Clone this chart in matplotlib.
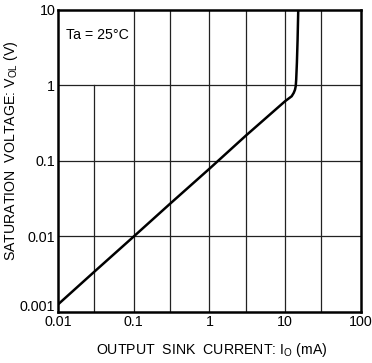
import matplotlib
matplotlib.use('Agg')
import matplotlib.pyplot as plt
import matplotlib.transforms as mtransforms
import numpy as np

plt.rcParams['font.family'] = ['Liberation Sans', 'DejaVu Sans']
plt.rcParams['mathtext.fontset'] = 'custom'
plt.rcParams['mathtext.rm'] = 'Liberation Sans'

# curve (mA, V)
current = [0.01, 0.03, 0.1, 0.3, 1, 3, 10, 12.2, 13.0, 13.5, 13.8, 14.0, 14.3, 14.6, 14.9]
voltage = [0.00126, 0.0034, 0.01, 0.027, 0.079, 0.215, 0.62, 0.72, 0.80, 0.88, 0.98, 1.2, 2.0, 4.0, 10]

x_ticks = [0.01, 0.1, 1, 10, 100]
x_ticklabels = ['0.01', '0.1', '1', '10', '100']
y_ticks = [0.001, 0.01, 0.1, 1, 10]
y_ticklabels = ['0.001', '0.01', '0.1', '1', '10']
x_grid = [0.1, 0.3, 1, 3, 10, 30]

W, H = 372, 363
fig = plt.figure(figsize=(W / 100, H / 100), dpi=100)
ax = fig.add_axes([0.156, 0.1405, 0.814, 0.832])
ax.set_xscale('log')
ax.set_yscale('log')
ax.set_xlim(0.01, 100)
ax.set_ylim(0.001, 10)

for x in x_grid:
    ax.axvline(x, color='#222222', lw=0.9, zorder=1)
# gridline at 0.03 stops below the temperature note
ax.axvline(0.03, ymax=0.75, color='#222222', lw=0.9, zorder=1)
for y in [0.01, 0.1, 1]:
    ax.axhline(y, color='#222222', lw=0.9, zorder=1)

ax.plot(current, voltage, color='black', lw=1.8, zorder=3)

ax.text(0.0128, 4.6, 'Ta = 25°C', fontsize=10.2, va='center', ha='left')

ax.set_xticks(x_ticks)
ax.set_xticklabels(x_ticklabels)
ax.set_yticks(y_ticks)
ax.set_yticklabels(y_ticklabels)
ax.minorticks_off()
ax.tick_params(length=0, labelsize=10.3, pad=2)
for s in ax.spines.values():
    s.set_linewidth(1.8)

# lowest y label sits a little above its line, clear of the x labels
lab = ax.get_yticklabels()[0]
lab.set_transform(lab.get_transform() +
                  mtransforms.ScaledTranslation(0, 5 / 72, fig.dpi_scale_trans))

fig.text(212 / W, 1 - 350 / H, r'OUTPUT  SINK  CURRENT: $\mathregular{I_O}$ (mA)',
         fontsize=10.2, ha='center', va='center')
fig.text(11 / W, 1 - 151 / H, r'SATURATION  VOLTAGE: $\mathregular{V_{OL}}$ (V)',
         fontsize=10.2, ha='center', va='center', rotation=90)

fig.savefig('out.png', dpi=100)
